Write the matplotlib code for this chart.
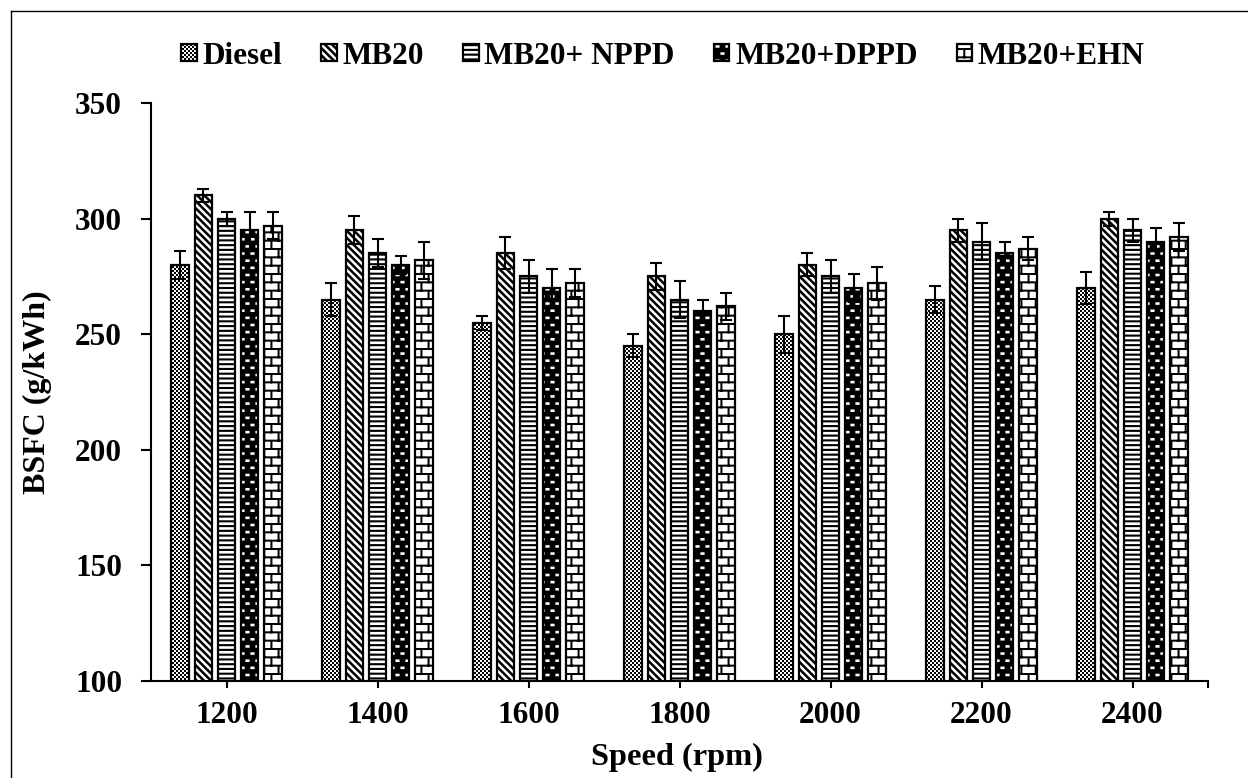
import numpy as np
import matplotlib
matplotlib.use('Agg')
import matplotlib.pyplot as plt
import matplotlib.hatch as mhatch
from matplotlib.path import Path
from matplotlib.lines import Line2D

# ---------------- data ----------------
speeds = ['1200', '1400', '1600', '1800', '2000', '2200', '2400']
series_names = ['Diesel', 'MB20', 'MB20+ NPPD', 'MB20+DPPD', 'MB20+EHN']

diesel = [280, 265, 255, 245, 250, 265, 270]
mb20 = [310, 295, 285, 275, 280, 295, 300]
mb20_nppd = [300, 285, 275, 265, 275, 290, 295]
mb20_dppd = [295, 280, 270, 260, 270, 285, 290]
mb20_ehn = [297, 282, 272, 262, 272, 287, 292]

diesel_err = [6, 7, 3, 5, 8, 6, 7]
mb20_err = [3, 6, 7, 6, 5, 5, 3]
mb20_nppd_err = [3, 6, 7, 8, 7, 8, 5]
mb20_dppd_err = [8, 4, 8, 5, 6, 5, 6]
mb20_ehn_err = [6, 8, 6, 6, 7, 5, 6]

yticks = [100, 150, 200, 250, 300, 350]


# ---------------- custom fill patterns (hatch tiles) ----------------
def _rect(x0, y0, w, h, cw=False):
    pts = [(x0, y0), (x0 + w, y0), (x0 + w, y0 + h), (x0, y0 + h)]
    if cw:
        pts = pts[::-1]
    return pts + [pts[0]]


def _make_hatch(char, polys):
    verts = np.array([p for poly in polys for p in poly], dtype=float)
    codes = []
    for poly in polys:
        codes += [Path.MOVETO] + [Path.LINETO] * (len(poly) - 2) + [Path.CLOSEPOLY]
    codes = np.array(codes, dtype=Path.code_type)

    class _H(mhatch.HatchPatternBase):
        def __init__(self, hatch, density):
            self.on = char in hatch
            self.num_vertices = len(verts) if self.on else 0

        def set_vertices_and_codes(self, vertices, cds):
            vertices[:] = verts
            cds[:] = codes
    return _H


# checkerboard (Diesel)
n = 50
checker = [_rect(i / n, j / n, 1 / n, 1 / n) for i in range(n) for j in range(n)
           if (i + j) % 2 == 0]
# wide downward diagonals (MB20)
n = 14
w = 0.036
diag = []
for k in range(0, 2 * n + 1):
    c = k / n
    diag.append([(0, c), (1, c - 1), (1, c - 1 + w), (0, c + w), (0, c)])
# horizontal lines (NPPD)
n = 21
horiz = [_rect(0, (r + 0.3) / n, 1, 0.021) for r in range(n)]
# black with white staggered dashes (DPPD)
rows, cols = 14, 10
dash = [_rect(0, 0, 1, 1)]
for r in range(rows):
    y0 = r / rows + (1 / rows - 0.026) / 2
    for c in range(cols):
        x0 = c / cols + (0.05 if r % 2 else 0.0)
        dash.append(_rect(x0 + 0.004, y0, 0.042, 0.026, cw=True))
# bricks (EHN)
rows, cols = 12, 7
t = 0.02
brick = [_rect(0, r / rows, 1, t) for r in range(rows)]
for r in range(rows):
    for c in range(cols + 1):
        x = (c + (0.5 if r % 2 else 0.0)) / cols
        brick.append(_rect(x - t / 2, r / rows, t, 1 / rows))

mhatch._hatch_types[:] = [
    _make_hatch('o', checker),
    _make_hatch('\\', diag),
    _make_hatch('-', horiz),
    _make_hatch('O', dash),
    _make_hatch('*', brick),
]

# ---------------- style ----------------
plt.rcParams['font.family'] = ['Liberation Serif', 'DejaVu Serif']
plt.rcParams['font.weight'] = 'bold'
plt.rcParams['hatch.linewidth'] = 0.01
plt.rcParams['hatch.color'] = 'black'

fig = plt.figure(figsize=(12.48, 7.78), dpi=100)
ax = fig.add_axes([151 / 1248, 97 / 778, 1057 / 1248, 578 / 778])

values = [diesel, mb20, mb20_nppd, mb20_dppd, mb20_ehn]
errors = [diesel_err, mb20_err, mb20_nppd_err, mb20_dppd_err, mb20_ehn_err]
hatches = ['o', '\\', '-', 'O', '*']

x = np.arange(len(speeds))
pitch = 0.154
width = 0.115
handles = []
for i, (vals, errs, h) in enumerate(zip(values, errors, hatches)):
    pos = x + (i - 2) * pitch
    bars = ax.bar(pos, vals, width=width, facecolor='white', edgecolor='black',
                  linewidth=1.6, hatch=h, zorder=2, label=series_names[i])
    ax.errorbar(pos, vals, yerr=errs, fmt='none', ecolor='black',
                elinewidth=1.5, capsize=4.6, capthick=1.5, zorder=3)
    handles.append(bars)

ax.set_xlim(-0.5, len(speeds) - 0.5)
ax.set_ylim(100, 350)
ax.set_yticks(yticks)
ax.set_xticks(x)
ax.set_xticklabels(speeds)
ax.set_xticks([len(speeds) - 0.5], minor=True)

for s in ['top', 'right']:
    ax.spines[s].set_visible(False)
for s in ['left', 'bottom']:
    ax.spines[s].set_linewidth(1.5)

ax.tick_params(axis='y', which='major', direction='out', length=7.2, width=1.5,
               pad=13.5, labelsize=22.5)
ax.tick_params(axis='x', which='both', direction='out', length=5, width=1.5,
               pad=9.4, labelsize=22.5)

ax.set_xlabel('Speed (rpm)', fontsize=23.3, fontweight='bold')
ax.set_ylabel('BSFC (g/kWh)', fontsize=23, fontweight='bold')
ax.xaxis.set_label_coords(0.4976, -0.107)
ax.yaxis.set_label_coords(-0.0935, 0.5)

fig.legend(handles, series_names, loc='center',
           bbox_to_anchor=(663 / 1248, 1 - 56 / 778), ncol=5, frameon=False,
           prop={'size': 22.5, 'weight': 'bold'}, handlelength=0.5,
           handleheight=0.5, handletextpad=0.18, columnspacing=1.25,
           borderaxespad=0, borderpad=0)

# outer frame (top and left edges visible)
fig.add_artist(Line2D([11 / 1248, 1.0], [1 - 11 / 778, 1 - 11 / 778],
                      transform=fig.transFigure, color='black', linewidth=1.0))
fig.add_artist(Line2D([11 / 1248, 11 / 1248], [0.0, 1 - 11 / 778],
                      transform=fig.transFigure, color='black', linewidth=1.0))

fig.savefig('out.png', dpi=100)
